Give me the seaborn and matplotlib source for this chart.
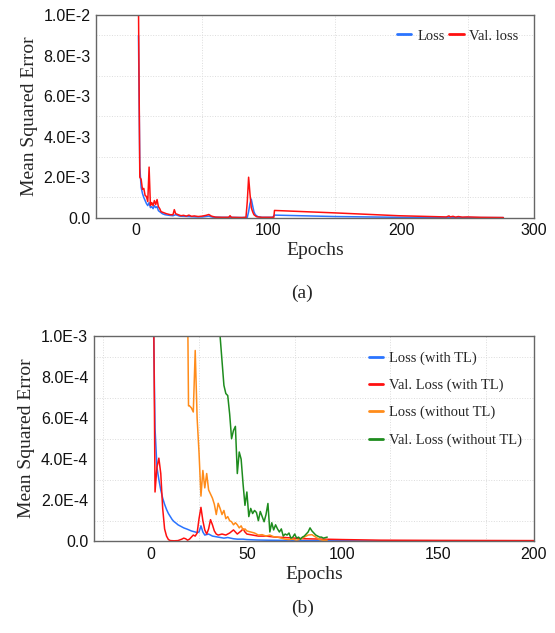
import numpy as np
import pandas as pd
import matplotlib
matplotlib.use("Agg")
import matplotlib.pyplot as plt
import seaborn as sns
from matplotlib.ticker import FixedLocator, MultipleLocator

# ---------------- data (a) ----------------
a_loss_ep = [2, 3, 4, 5, 6, 7, 8, 9, 10, 11, 12, 13, 14, 15, 16, 17, 18, 20, 22, 25, 28, 30, 33,
             36, 40, 45, 50, 55, 58, 65, 70, 80, 84, 85, 86, 87, 88, 89, 90, 92, 95, 103, 104.5,
             150, 200, 235, 237, 240, 277]
a_loss_val = [9.0, 2.5, 1.5, 1.2, 1.0, 0.85, 0.7, 0.6, 0.75, 0.5, 0.55, 0.45, 0.6, 0.5, 0.55, 0.35,
              0.3, 0.2, 0.15, 0.12, 0.1, 0.15, 0.08, 0.07, 0.06, 0.04, 0.04, 0.08, 0.03, 0.02, 0.02,
              0.01, 0.02, 0.3, 0.7, 0.92, 0.6, 0.3, 0.15, 0.05, 0.02, 0.02, 0.13, 0.06, 0.02, 0.01,
              0.04, 0.01, 0.005]
a_vloss_ep = [1, 2, 3, 4, 5, 6, 7, 8, 9, 10, 11, 12, 13, 14, 15, 16, 17, 18, 19, 21, 23, 26, 28, 29,
              30, 32, 34, 36, 38, 40, 42, 44, 47, 50, 53, 55, 57, 60, 65, 70, 71, 72, 80, 83, 84,
              85, 86, 87, 88, 89, 91, 95, 104, 104.5, 150, 198, 234, 236, 237, 239, 241, 243, 246,
              250, 260, 277]
a_vloss_val = [12, 10.5, 2.0, 1.9, 1.4, 1.45, 1.1, 1.05, 0.8, 2.5, 0.6, 0.75, 0.6, 0.85, 0.65, 0.9,
               0.55, 0.45, 0.3, 0.25, 0.2, 0.15, 0.15, 0.4, 0.2, 0.15, 0.1, 0.12, 0.08, 0.13, 0.07,
               0.09, 0.06, 0.08, 0.12, 0.16, 0.08, 0.03, 0.02, 0.02, 0.1, 0.02, 0.01, 0.02, 0.8,
               2.0, 1.2, 0.5, 0.3, 0.15, 0.05, 0.02, 0.02, 0.36, 0.24, 0.1, 0.04, 0.09, 0.04, 0.07,
               0.03, 0.06, 0.03, 0.04, 0.02, 0.01]
a_scale = 1e-3
a_yticks = [0.0, 2e-3, 4e-3, 6e-3, 8e-3, 1e-2]
a_yticklabels = ["0.0", "2.0E-3", "4.0E-3", "6.0E-3", "8.0E-3", "1.0E-2"]
a_xticks = [0, 100, 200, 300]
a_labels = ["Loss", "Val. loss"]

# ---------------- data (b) ----------------
b_loss_ep = [1, 2, 3, 4, 5, 6, 7, 8, 9, 10, 11, 12, 13, 14, 15, 17, 19, 21, 23, 24, 25, 26, 27, 28,
             30, 32, 35, 38, 40, 43, 45, 48, 50, 55, 60, 70, 80, 90, 100, 120, 150, 200]
b_loss_val = [12, 5.5, 3.6, 3.0, 2.5, 2.1, 1.8, 1.55, 1.35, 1.2, 1.05, 0.95, 0.88, 0.8, 0.75, 0.65,
              0.58, 0.5, 0.45, 0.42, 0.45, 0.75, 0.45, 0.3, 0.35, 0.25, 0.2, 0.15, 0.18, 0.12, 0.1,
              0.1, 0.08, 0.06, 0.05, 0.04, 0.03, 0.02, 0.02, 0.01, 0.01, 0.01]
b_vloss_ep = [1, 2, 3, 4, 5, 6, 7, 8, 9, 10, 12, 14, 16, 17, 18, 19, 20, 22, 23, 24, 25, 26, 27, 28,
              29, 30, 31, 32, 33, 34, 35, 37, 39, 41, 43, 44, 45, 47, 48, 49, 50, 53, 56, 60, 65,
              70, 80, 90, 100, 120, 150, 200]
b_vloss_val = [15, 2.4, 3.6, 4.05, 3.3, 1.6, 0.6, 0.25, 0.08, 0.03, 0.02, 0.03, 0.1, 0.15, 0.12,
               0.05, 0.1, 0.3, 0.25, 0.4, 1.1, 1.65, 1.0, 0.55, 0.35, 0.6, 1.05, 0.8, 0.5, 0.35,
               0.3, 0.35, 0.3, 0.4, 0.55, 0.45, 0.35, 0.5, 0.6, 0.45, 0.35, 0.3, 0.25, 0.25, 0.2,
               0.18, 0.12, 0.1, 0.08, 0.05, 0.04, 0.03]
b_loss_nt_ep = [18, 19, 19.5, 20, 21, 22, 23, 24, 25, 26, 27, 28, 29, 30, 31, 32, 33, 34, 35, 36,
                37, 38, 39, 40, 41, 42, 43, 44, 45, 46, 47, 48, 49, 50, 52, 54, 56, 58, 60, 62,
                64, 66, 68, 70, 72, 74, 76, 78, 80, 82, 84, 86, 88, 90, 92]
b_loss_nt_val = [30, 12, 6.6, 6.6, 6.5, 6.3, 9.3, 6.0, 4.3, 2.2, 3.45, 2.6, 3.3, 2.5, 2.3, 2.1,
                 1.8, 1.3, 1.85, 1.6, 1.3, 1.5, 1.1, 1.2, 1.0, 0.95, 0.8, 0.9, 0.8, 0.65, 0.75,
                 0.55, 0.6, 0.5, 0.45, 0.4, 0.3, 0.32, 0.25, 0.3, 0.22, 0.2, 0.15, 0.1, 0.08, 0.1,
                 0.05, 0.1, 0.2, 0.3, 0.32, 0.2, 0.08, 0.04, 0.05]
b_vloss_nt_ep = [30, 35, 36, 37, 38, 39, 40, 41, 42, 43, 44, 45, 46, 47, 48, 49, 50, 51, 52, 53,
                 54, 55, 56, 57, 58, 59, 60, 61, 62, 63, 64, 65, 66, 67, 68, 69, 70, 71, 72, 73,
                 74, 75, 76, 77, 78, 79, 80, 81, 82, 83, 84, 85, 86, 87, 88, 89, 90, 92]
b_vloss_nt_val = [25, 12, 10, 8.8, 7.6, 7.2, 7.1, 6.2, 5.0, 5.4, 5.6, 3.3, 4.35, 4.0, 2.8, 1.75,
                  2.4, 1.2, 1.6, 1.35, 1.5, 1.4, 1.0, 1.45, 1.2, 0.95, 1.3, 1.84, 0.45, 0.9, 0.55,
                  0.8, 0.6, 0.45, 0.6, 0.25, 0.35, 0.3, 0.4, 0.15, 0.2, 0.35, 0.15, 0.2, 0.1, 0.2,
                  0.25, 0.35, 0.45, 0.65, 0.5, 0.4, 0.3, 0.25, 0.2, 0.2, 0.15, 0.2]
b_scale = 1e-4
b_yticks = [0.0, 2e-4, 4e-4, 6e-4, 8e-4, 1e-3]
b_yticklabels = ["0.0", "2.0E-4", "4.0E-4", "6.0E-4", "8.0E-4", "1.0E-3"]
b_xticks = [0, 50, 100, 150, 200]
b_labels = ["Loss (with TL)", "Val. Loss (with TL)", "Loss (without TL)", "Val. Loss (without TL)"]

BLUE = "#2a74ff"
RED = "#ff1010"
ORANGE = "#ff8c1a"
GREEN = "#1e8c1e"

sns.set_style("white")
SERIF = ["Liberation Serif", "DejaVu Serif"]
SANS = ["Liberation Sans", "DejaVu Sans"]
plt.rcParams["font.family"] = SANS

fig = plt.figure(figsize=(5.55, 6.33), dpi=100)
ax1 = fig.add_axes([0.173, 0.656, 0.789, 0.320])
ax2 = fig.add_axes([0.169, 0.145, 0.793, 0.324])


def style(ax, xlim, xticks, xminor, yticks, yticklabels, yminor):
    ax.set_xlim(*xlim)
    ax.set_ylim(0, yticks[-1])
    ax.xaxis.set_major_locator(FixedLocator(xticks))
    ax.xaxis.set_minor_locator(MultipleLocator(xminor))
    ax.set_yticks(yticks)
    ax.set_yticklabels(yticklabels)
    ax.yaxis.set_minor_locator(MultipleLocator(yminor))
    ax.grid(False)
    ax.grid(which="minor", linestyle=":", color="#dcdcdc", linewidth=0.7)
    ax.tick_params(axis="x", which="major", direction="in", length=4, width=0.8,
                   color="#666666", labelsize=11.5, pad=4, labelcolor="#111111")
    ax.tick_params(axis="y", which="major", length=0, labelsize=11.5, pad=4,
                   labelcolor="#111111")
    ax.tick_params(which="minor", length=0)
    for s in ax.spines.values():
        s.set_color("#666666")
        s.set_linewidth(1.0)
    ax.set_xlabel("Epochs", fontfamily=SERIF, fontsize=14, labelpad=3)
    ax.set_ylabel("Mean Squared Error", fontfamily=SERIF, fontsize=14, labelpad=4)


# panel (a)
sns.lineplot(x=a_loss_ep, y=np.array(a_loss_val) * a_scale, ax=ax1, color=BLUE,
             linewidth=1.1, label=a_labels[0])
sns.lineplot(x=a_vloss_ep, y=np.array(a_vloss_val) * a_scale, ax=ax1, color=RED,
             linewidth=1.1, label=a_labels[1])
style(ax1, (-30, 300), a_xticks, 50, a_yticks, a_yticklabels, 1e-3)
leg1 = ax1.legend(loc="upper right", bbox_to_anchor=(0.995, 0.995), ncol=2, frameon=False,
                  prop={"family": SERIF, "size": 10.5}, handlelength=1.0,
                  handletextpad=0.4, columnspacing=0.3)
for h in leg1.legend_handles:
    h.set_linewidth(2.0)

# panel (b)
sns.lineplot(x=b_loss_ep, y=np.array(b_loss_val) * b_scale, ax=ax2, color=BLUE,
             linewidth=1.1, label=b_labels[0])
sns.lineplot(x=b_vloss_ep, y=np.array(b_vloss_val) * b_scale, ax=ax2, color=RED,
             linewidth=1.1, label=b_labels[1])
sns.lineplot(x=b_loss_nt_ep, y=np.array(b_loss_nt_val) * b_scale, ax=ax2, color=ORANGE,
             linewidth=1.1, label=b_labels[2])
sns.lineplot(x=b_vloss_nt_ep, y=np.array(b_vloss_nt_val) * b_scale, ax=ax2, color=GREEN,
             linewidth=1.1, label=b_labels[3])
style(ax2, (-30, 200), b_xticks, 25, b_yticks, b_yticklabels, 1e-4)
leg2 = ax2.legend(loc="upper right", bbox_to_anchor=(1.003, 0.99), frameon=False,
                  prop={"family": SERIF, "size": 10.5}, handlelength=1.0,
                  handletextpad=0.4, labelspacing=0.95)
for h in leg2.legend_handles:
    h.set_linewidth(2.0)

fig.text(0.545, 0.537, "(a)", ha="center", va="center", fontfamily=SERIF, fontsize=14)
fig.text(0.545, 0.039, "(b)", ha="center", va="center", fontfamily=SERIF, fontsize=14)

fig.savefig("out.png", dpi=100, facecolor="white")
